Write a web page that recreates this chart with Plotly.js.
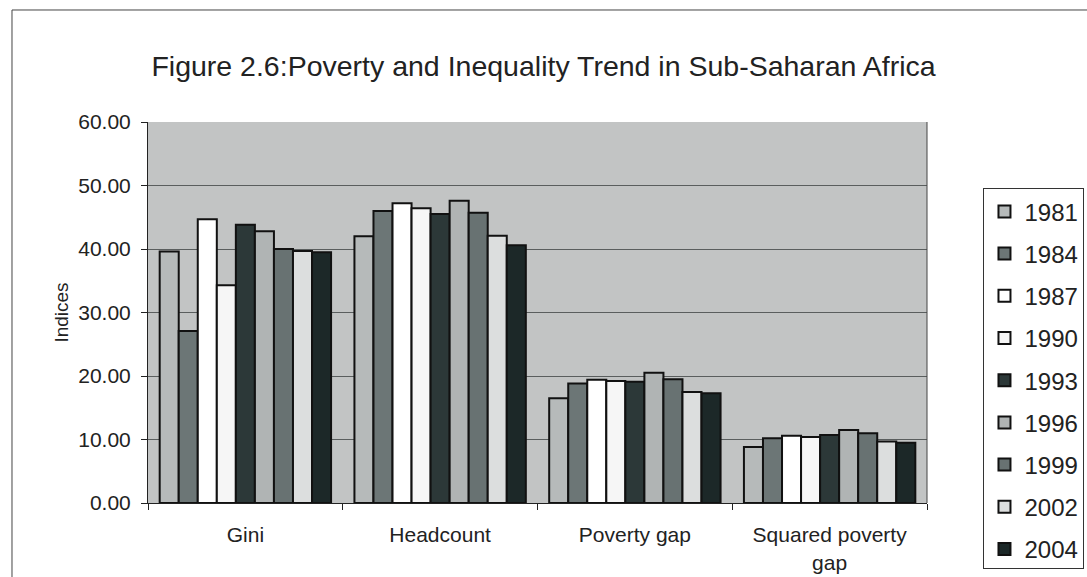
<!DOCTYPE html>
<html>
<head>
<meta charset="utf-8">
<script src="https://cdn.plot.ly/plotly-3.0.1.min.js"></script>
<style>html,body{margin:0;padding:0;background:#fff;}#chart{width:1087px;height:577px;}</style>
</head>
<body>
<div id="chart"></div>
<script>
const categories = ["Gini", "Headcount", "Poverty gap", "Squared poverty<br>gap"];
const years = ["1981", "1984", "1987", "1990", "1993", "1996", "1999", "2002", "2004"];
const v1981 = [39.6, 42.0, 16.5, 8.8];
const v1984 = [27.1, 46.0, 18.8, 10.2];
const v1987 = [44.7, 47.2, 19.4, 10.6];
const v1990 = [34.3, 46.4, 19.2, 10.4];
const v1993 = [43.8, 45.5, 19.1, 10.7];
const v1996 = [42.8, 47.6, 20.5, 11.5];
const v1999 = [40.0, 45.7, 19.5, 11.0];
const v2002 = [39.7, 42.1, 17.5, 9.7];
const v2004 = [39.5, 40.6, 17.3, 9.5];
const seriesValues = [v1981, v1984, v1987, v1990, v1993, v1996, v1999, v2002, v2004];
const colors = ["#b6baba", "#6c7676", "#ffffff", "#f6f6f6", "#2c3838", "#b0b4b4", "#687272", "#dcdede", "#1c2828"];

const traces = years.map((y, i) => ({
  type: "bar",
  name: y,
  x: categories,
  y: seriesValues[i],
  legendgroup: "g" + y,
  marker: {color: colors[i], line: {color: "#111", width: 2}},
  hoverinfo: "x+y+name"
}));

const layout = {
  width: 1087, height: 577,
  margin: {l: 148, r: 160, t: 122, b: 74, autoexpand: false},
  paper_bgcolor: "#ffffff",
  plot_bgcolor: "#c2c4c4",
  font: {family: "Liberation Sans, Arial, sans-serif", color: "#222"},
  title: {text: "Figure 2.6:Poverty and Inequality Trend in Sub-Saharan Africa",
          font: {size: 28.5, color: "#222"}, x: 0.5, xanchor: "center", y: 0.885, yanchor: "middle"},
  barmode: "group",
  bargap: 0.12,
  bargroupgap: 0,
  xaxis: {
    type: "category",
    showline: true, linecolor: "#222", linewidth: 1,
    ticks: "outside", tickson: "boundaries", ticklen: 6, tickcolor: "#222",
    tickfont: {size: 21, color: "#222"},
    ticklabelstandoff: 13,
    showgrid: false, zeroline: false
  },
  yaxis: {
    range: [0, 60], dtick: 10, tickformat: ".2f",
    showline: true, linecolor: "#222", linewidth: 1,
    ticks: "outside", ticklen: 6, tickcolor: "#222",
    tickfont: {size: 21, color: "#222"},
    ticklabelstandoff: 6,
    showgrid: true, gridcolor: "#5a5e5e", gridwidth: 1,
    zeroline: false,
    title: {text: "Indices", font: {size: 19, color: "#222"}, standoff: 4}
  },
  showlegend: true,
  legend: {
    x: 1.0725, xanchor: "left", y: 0.826, yanchor: "top",
    bgcolor: "#ffffff", bordercolor: "#333", borderwidth: 1,
    font: {size: 24, color: "#222"},
    traceorder: "grouped", tracegroupgap: 8,
    itemwidth: 30
  },
  shapes: [
    {type: "rect", xref: "paper", yref: "paper", x0: -0.1746, x1: 1.4, y0: -0.4, y1: 1.294,
     line: {color: "#444", width: 1}, fillcolor: "rgba(0,0,0,0)", layer: "below"},
    {type: "line", xref: "paper", yref: "paper", x0: 1, x1: 1, y0: 0, y1: 1,
     line: {color: "#444", width: 1}}
  ]
};

Plotly.newPlot("chart", traces, layout, {displayModeBar: false, staticPlot: true});
</script>
</body>
</html>
